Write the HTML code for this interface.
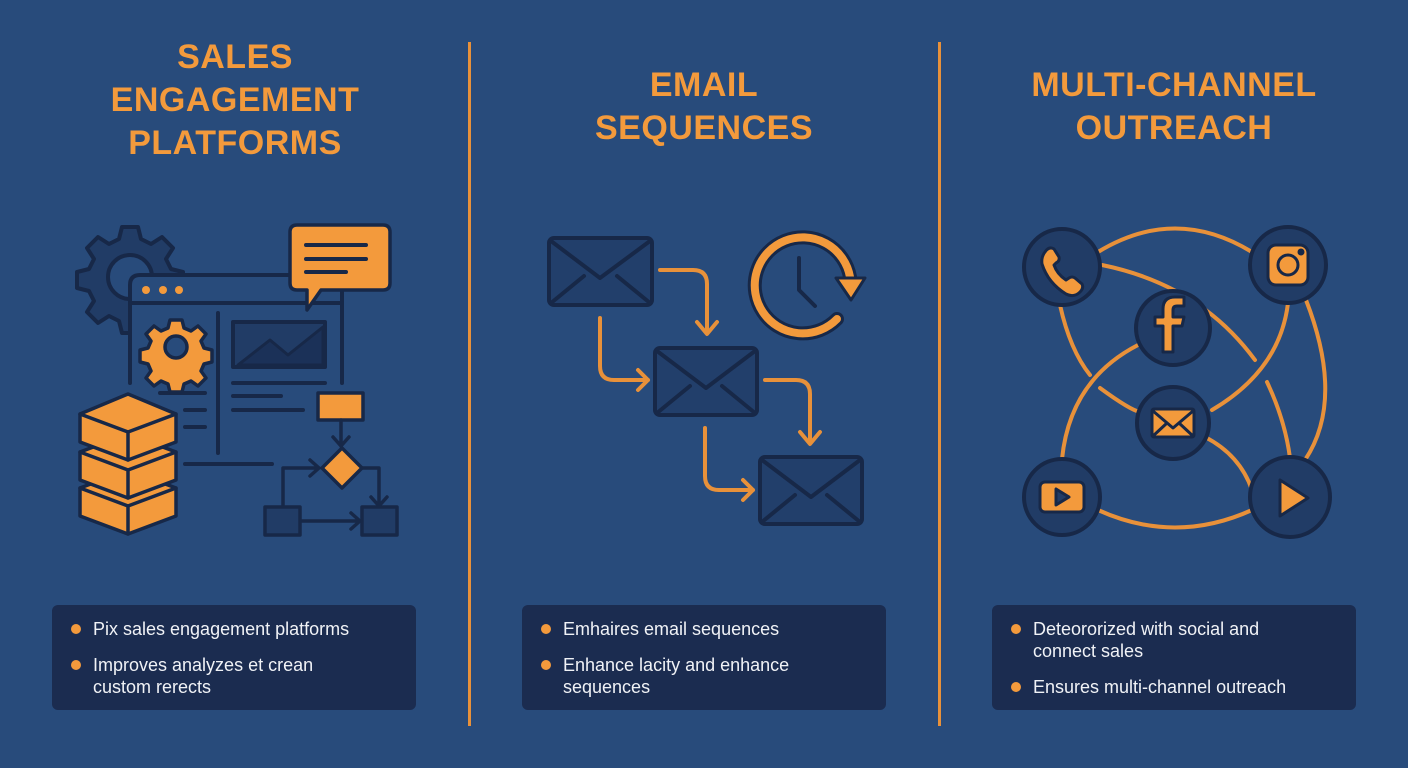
<!DOCTYPE html>
<html><head><meta charset="utf-8"><style>
body{margin:0;width:1408px;height:768px;background:#284b7b;overflow:hidden;font-family:"Liberation Sans",sans-serif;position:relative}
.t{position:absolute;color:#f39a3c;font-weight:bold;font-size:34px;text-align:center;line-height:43px;letter-spacing:0.5px}
.box{position:absolute;background:#1b2c50;border-radius:6px;color:#f0f2f6;font-size:18px;line-height:22px}
.box div{position:relative;padding-left:41px;margin-bottom:14px}
.box div:before{content:"";position:absolute;left:19px;top:6px;width:10px;height:10px;border-radius:50%;background:#f39a3c}
</style></head><body>
<div class="t" style="left:35px;width:400px;top:36px">SALES<br>ENGAGEMENT<br>PLATFORMS</div>
<div class="t" style="left:504px;width:400px;top:64px">EMAIL<br>SEQUENCES</div>
<div class="t" style="left:974px;width:400px;top:64px">MULTI-CHANNEL<br>OUTREACH</div>
<div style="position:absolute;left:468px;top:42px;width:3px;height:684px;background:#e8913a"></div>
<div style="position:absolute;left:938px;top:42px;width:3px;height:684px;background:#e8913a"></div>

<div class="box" style="left:52px;top:605px;width:364px;height:105px;padding-top:13px;box-sizing:border-box"><div>Pix sales engagement platforms</div><div>Improves analyzes et crean<br>custom rerects</div></div>
<div class="box" style="left:522px;top:605px;width:364px;height:105px;padding-top:13px;box-sizing:border-box"><div>Emhaires email sequences</div><div>Enhance lacity and enhance<br>sequences</div></div>
<div class="box" style="left:992px;top:605px;width:364px;height:105px;padding-top:13px;box-sizing:border-box"><div>Deteororized with social and<br>connect sales</div><div>Ensures multi-channel outreach</div></div>

<svg width="1408" height="768" style="position:absolute;left:0;top:0" fill="none" stroke-linecap="round" stroke-linejoin="round">
<!-- LEFT -->
<g stroke="#172848" stroke-width="4">
 <g fill="#213c66">
  <path d="M122 227h16l3 12 10 5 11-7 11 11-7 11 5 10 12 3v16l-12 3-5 10 7 11-11 11-11-7-10 5-3 12h-16l-3-12-10-5-11 7-11-11 7-11-5-10-12-3v-16l12-3 5-10-7-11 11-11 11 7 10-5z"/>
 </g>
 <circle cx="130" cy="277" r="22" fill="#284b7b"/>
 <rect x="128" y="275" width="214" height="200" fill="#284b7b" stroke="none"/>
 <path d="M130 383V285q0-10 10-10h192q10 0 10 10v98"/>
 <path d="M130 303h212"/>
 <path d="M218 313v140M185 464h87M160 393h45M185 410h20M185 427h20M233 383h92M233 396h48M233 410h70"/>
 <rect x="233" y="322" width="92" height="45" fill="#213c66"/>
 <path d="M238 365l32-25 18 15 35-28v38z" fill="#1b3158" stroke-width="3"/>
</g>
<g fill="#f39a3c"><circle cx="146" cy="290" r="4"/><circle cx="163" cy="290" r="4"/><circle cx="179" cy="290" r="4"/></g>
<g stroke="#172848" stroke-width="3.5" fill="#f39a3c">
 <path d="M170 320h12l2 8 7 3 7-5 8 8-5 7 3 7 8 2v12l-8 2-3 7 5 7-8 8-7-5-7 3-2 8h-12l-2-8-7-3-7 5-8-8 5-7-3-7-8-2v-12l8-2 3-7-5-7 8-8 7 5 7-3z"/>
 <circle cx="176" cy="347" r="11" fill="#284b7b"/>
 <path d="M297 225h86q7 0 7 7v51q0 7-7 7h-62l-14 20v-20h-10q-7 0-7-7v-51q0-7 7-7z"/>
</g>
<g stroke="#172848" stroke-width="4"><path d="M306 245h60M306 259h60M306 272h40"/></g>
<g stroke="#172848" stroke-width="3.5" fill="#f39a3c">
 <path d="M80 488l48-18 48 18v28l-48 18-48-18z"/><path d="M80 488l48 18 48-18M128 506v28"/>
 <path d="M80 452l48-18 48 18v28l-48 18-48-18z"/><path d="M80 452l48 18 48-18M128 470v28"/>
 <path d="M80 414l48-20 48 20v28l-48 18-48-18z"/><path d="M80 414l48 18 48-18M128 432v28"/>
 <rect x="318" y="393" width="45" height="27"/>
 <path d="M342 448l20 20-20 20-20-20z"/>
</g>
<g stroke="#172848" stroke-width="3.5">
 <path d="M341 420v26M333 437l8 9 8-9"/>
 <path d="M283 507v-39h36M310 460l9 8-9 8"/>
 <path d="M362 468h17v37M371 497l8 9 8-9"/>
 <path d="M300 521h60M351 513l9 8-9 8"/>
 <rect x="265" y="507" width="35" height="28" fill="#213c66"/><rect x="362" y="507" width="35" height="28" fill="#213c66"/>
</g>
<!-- MIDDLE -->
<g stroke="#e8913a" stroke-width="4">
 <path d="M660 270h33q14 0 14 14v48M697 322l10 12 10-12"/>
 <path d="M600 318v48q0 14 14 14h34M638 370l10 10-10 10"/>
 <path d="M765 380h31q14 0 14 14v48M800 432l10 12 10-12"/>
 <path d="M705 428v48q0 14 14 14h34M743 480l10 10-10 10"/>
</g>
<g stroke="#172848" stroke-width="4" fill="#223f6b">
 <rect x="549" y="238" width="103" height="67" rx="5"/><path d="M551 241l49 37 50-37M551 303l33-27M650 303l-33-27"/>
 <rect x="655" y="348" width="102" height="67" rx="5"/><path d="M657 351l49 37 49-37M657 413l33-27M755 413l-33-27"/>
 <rect x="760" y="457" width="102" height="67" rx="5"/><path d="M762 460l49 37 49-37M762 522l33-27M860 522l-33-27"/>
</g>
<path d="M837 319A48 48 0 1 1 850 277" stroke="#172848" stroke-width="14"/>
<path d="M837 319A48 48 0 1 1 850 277" stroke="#f39a3c" stroke-width="8"/>
<path d="M836 278l29 0-14 22z" fill="#f39a3c" stroke="#172848" stroke-width="3"/>
<path d="M799 258v32l16 16" stroke="#172848" stroke-width="4"/>
<!-- RIGHT -->
<g stroke="#e8913a" stroke-width="4">
 <path d="M1098 252Q1175 205 1252 252"/>
 <path d="M1098 510Q1175 545 1252 510"/>
 <path d="M1306 300Q1345 400 1305 460"/>
 <path d="M1060 305Q1070 350 1090 375M1100 388Q1130 410 1140 412M1205 437Q1240 455 1252 490"/>
 <path d="M1102 265Q1200 285 1255 360M1267 382Q1285 420 1290 458"/>
 <path d="M1138 345Q1070 380 1062 459"/>
 <path d="M1212 410Q1280 370 1288 303"/>
</g>
<g stroke="#172848" stroke-width="4" fill="#213c66">
 <circle cx="1062" cy="267" r="38"/><circle cx="1288" cy="265" r="38"/><circle cx="1173" cy="328" r="37"/>
 <circle cx="1173" cy="423" r="36"/><circle cx="1062" cy="497" r="38"/><circle cx="1290" cy="497" r="40"/>
</g>
<g stroke="#172848" stroke-width="3" fill="#f39a3c">
 <path d="M1045 252q4-6 9-3l5 8q1 4-3 6l-2 2q3 9 12 15l3-2q3-2 6 0l7 6q2 4-2 8-6 6-14 2-18-11-24-30-1-7 3-12z"/>
 <rect x="1268" y="245" width="40" height="40" rx="8"/><circle cx="1288" cy="265" r="10" fill="#f39a3c"/><circle cx="1301" cy="252" r="2" fill="#172848"/>
 <path d="M1163 352v-26h-8v-9h8v-8q0-12 12-12h9v9h-7q-4 0-4 4v7h11l-2 9h-9v26z"/>
 <rect x="1152" y="409" width="42" height="28" rx="2"/><path d="M1153 411l20 17 20-17M1153 436l14-13M1193 436l-14-13" fill="none"/>
 <rect x="1040" y="482" width="44" height="30" rx="5"/><path d="M1056 489v16l13-8z" fill="#213c66"/>
 <path d="M1280 480v36l28-18z"/>
</g>
</svg>
</body></html>
